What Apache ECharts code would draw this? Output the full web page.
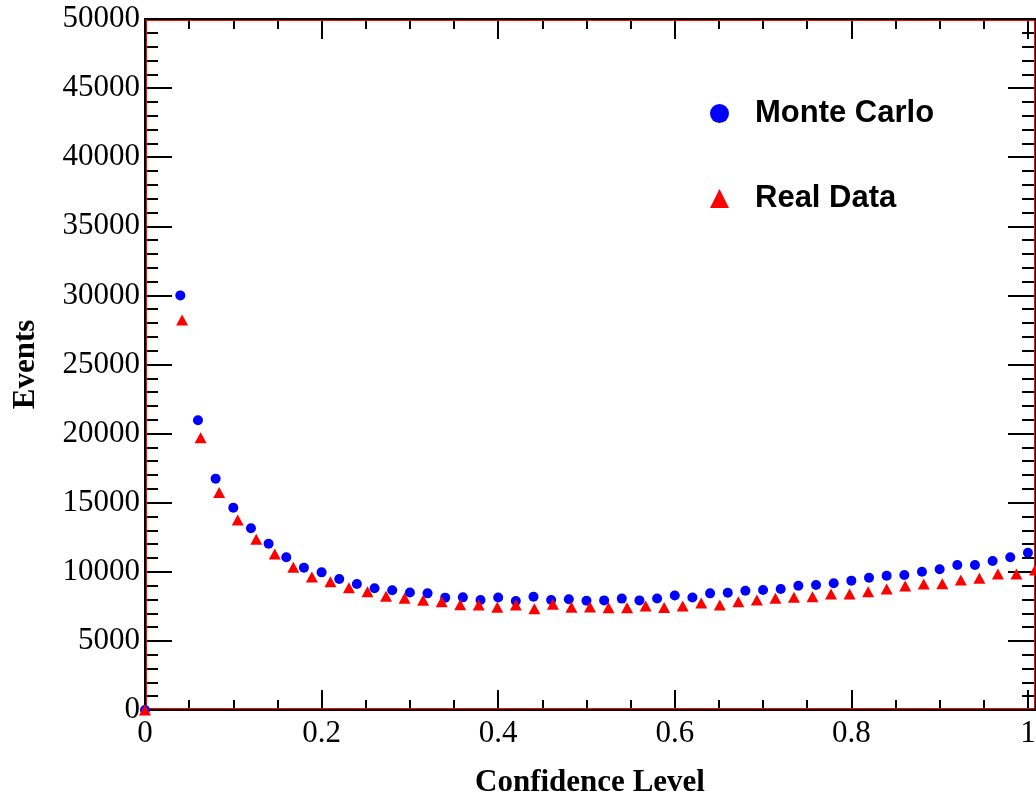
<!DOCTYPE html>
<html>
<head>
<meta charset="utf-8">
<script src="https://cdn.jsdelivr.net/npm/echarts@6/dist/echarts.min.js"></script>
<style>
html,body{margin:0;padding:0;background:#fff;}
#chart{width:1036px;height:799px;}
</style>
</head>
<body>
<div id="chart"></div>
<script>
// ---- data ----
const mcX = [0, 0.04, 0.06, 0.08, 0.10, 0.12, 0.14, 0.16, 0.18, 0.20, 0.22, 0.24, 0.26, 0.28, 0.30,
  0.32, 0.34, 0.36, 0.38, 0.40, 0.42, 0.44, 0.46, 0.48, 0.50, 0.52, 0.54, 0.56, 0.58, 0.60,
  0.62, 0.64, 0.66, 0.68, 0.70, 0.72, 0.74, 0.76, 0.78, 0.80, 0.82, 0.84, 0.86, 0.88, 0.90,
  0.92, 0.94, 0.96, 0.98, 1.00];
const mcY = [0, 30000, 20960, 16740, 14640, 13150, 12030, 11050, 10300, 9960, 9480, 9120, 8810, 8660, 8500,
  8440, 8130, 8150, 7960, 8140, 7890, 8200, 7960, 8010, 7910, 7930, 8060, 7930, 8070, 8290,
  8140, 8440, 8490, 8630, 8680, 8760, 8990, 9050, 9170, 9360, 9570, 9720, 9770, 10010, 10180,
  10490, 10490, 10780, 11050, 11380];

const rdX = [0, 0.042, 0.063, 0.084, 0.105, 0.126, 0.147, 0.168, 0.189, 0.210, 0.231, 0.252, 0.273, 0.294,
  0.315, 0.336, 0.357, 0.378, 0.399, 0.420, 0.441, 0.462, 0.483, 0.504, 0.525, 0.546, 0.567,
  0.588, 0.609, 0.630, 0.651, 0.672, 0.693, 0.714, 0.735, 0.756, 0.777, 0.798, 0.819, 0.840,
  0.861, 0.882, 0.903, 0.924, 0.945, 0.966, 0.987, 1.008];
const rdY = [0, 28220, 19700, 15730, 13750, 12350, 11290, 10330, 9630, 9280, 8850, 8560, 8230, 8080,
  7950, 7830, 7620, 7600, 7440, 7600, 7330, 7660, 7440, 7460, 7400, 7400, 7530,
  7420, 7530, 7740, 7600, 7830, 7960, 8080, 8150, 8200, 8400, 8400, 8560, 8750,
  8970, 9120, 9140, 9410, 9530, 9840, 9840, 10130];

const seriesNames = ['Monte Carlo', 'Real Data'];
const xTitle = 'Confidence Level';
const yTitle = 'Events';

// ---- chart ----
const chart = echarts.init(document.getElementById('chart'), null, {renderer: 'canvas'});
const serif = '"Liberation Serif", "DejaVu Serif", serif';
const sans = '"Liberation Sans", Arial, sans-serif';
const X_MAX = 1.008;

function xAxisDef(pos, interval, len, withLabels) {
  return {
    type: 'value', position: pos, min: 0, max: X_MAX, interval: interval,
    axisLine: {show: true, onZero: false, lineStyle: {color: '#000', width: 2}},
    axisTick: {show: true, inside: true, length: len, lineStyle: {color: '#000', width: 2}},
    axisLabel: withLabels ? {
      show: true, margin: 8, color: '#000', fontFamily: serif, fontSize: 31,
      formatter: function (v) {
        const r = v / 0.2;
        return Math.abs(r - Math.round(r)) < 1e-6 ? String(+v.toFixed(1)) : '';
      }
    } : {show: false},
    splitLine: {show: false}
  };
}

function yAxisDef(pos, withLabels) {
  return {
    type: 'value', position: pos, min: 0, max: 50000, interval: 5000,
    axisLine: {show: true, onZero: false, lineStyle: {color: '#000', width: 2}},
    axisTick: {show: true, inside: true, length: 27, lineStyle: {color: '#000', width: 2}},
    minorTick: {show: true, splitNumber: 5, length: 13, lineStyle: {color: '#000', width: 2}},
    axisLabel: withLabels ? {
      margin: 5, color: '#000', fontFamily: serif, fontSize: 31,
      formatter: function (v) { return String(v); }
    } : {show: false},
    splitLine: {show: false}, minorSplitLine: {show: false}
  };
}

const option = {
  backgroundColor: '#fff',
  animation: false,
  grid: {left: 145, right: 1, top: 19, bottom: 89, containLabel: false, outerBoundsMode: 'none'},
  legend: {
    orient: 'vertical', left: 705, top: 93, itemGap: 54,
    itemWidth: 19, itemHeight: 19,
    data: [
      {name: seriesNames[0], icon: 'circle'},
      {name: seriesNames[1], icon: 'triangle'}
    ],
    textStyle: {fontFamily: sans, fontWeight: 'bold', fontSize: 31, color: '#000', padding: [0, 0, 0, 21]}
  },
  xAxis: [
    Object.assign(xAxisDef('bottom', 0.2, 20, true), {
      name: xTitle, nameLocation: 'middle', nameGap: 57,
      nameTextStyle: {fontFamily: serif, fontWeight: 'bold', fontSize: 31, color: '#000'}
    }),
    xAxisDef('bottom', 0.05, 10, false),
    xAxisDef('top', 0.2, 20, false),
    xAxisDef('top', 0.05, 10, false)
  ],
  yAxis: [
    Object.assign(yAxisDef('left', true), {
      name: yTitle, nameLocation: 'middle', nameGap: 104,
      nameTextStyle: {fontFamily: serif, fontWeight: 'bold', fontSize: 31, color: '#000'}
    }),
    yAxisDef('right', false)
  ],
  series: [
    {
      name: seriesNames[0], type: 'scatter', xAxisIndex: 0, yAxisIndex: 0,
      symbol: 'circle', symbolSize: 10, clip: false,
      itemStyle: {color: '#0000ff', opacity: 1},
      data: mcX.map((x, i) => [x, mcY[i]])
    },
    {
      name: seriesNames[1], type: 'scatter', xAxisIndex: 0, yAxisIndex: 0,
      symbol: 'triangle', symbolSize: [12, 11], clip: false,
      itemStyle: {color: '#ff0000', opacity: 1},
      data: rdX.map((x, i) => [x, rdY[i]])
    }
  ]
};
chart.setOption(option);

// thin red frame just inside the black axis frame
const p0 = chart.convertToPixel({xAxisIndex: 0, yAxisIndex: 0}, [0, 0]);
const p1 = chart.convertToPixel({xAxisIndex: 0, yAxisIndex: 0}, [X_MAX, 50000]);
chart.setOption({
  graphic: [{
    type: 'rect', z: 1, silent: true,
    shape: {x: p0[0] + 1.5, y: p1[1] + 1.5, width: p1[0] - p0[0] - 2, height: p0[1] - p1[1] - 3},
    style: {fill: 'none', stroke: '#ff0000', lineWidth: 1}
  }]
});
</script>
</body>
</html>
